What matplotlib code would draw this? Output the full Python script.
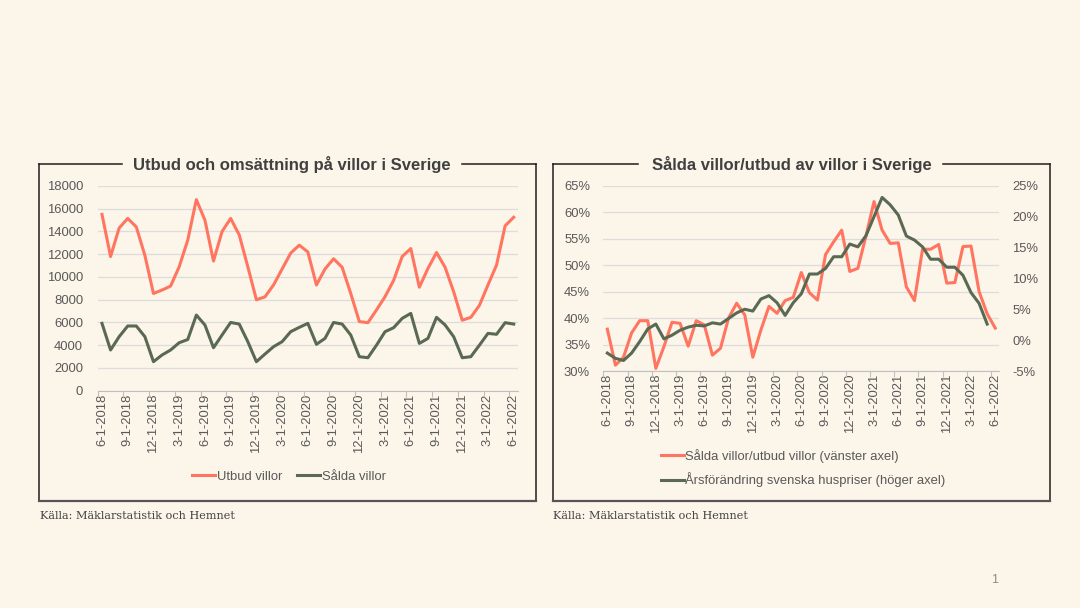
import numpy as np
import matplotlib.pyplot as plt
from matplotlib.lines import Line2D

# Data (monthly, 6-1-2018 .. 6-1-2022)
tick_labels = ['6-1-2018', '9-1-2018', '12-1-2018', '3-1-2019', '6-1-2019', '9-1-2019',
               '12-1-2019', '3-1-2020', '6-1-2020', '9-1-2020', '12-1-2020', '3-1-2021',
               '6-1-2021', '9-1-2021', '12-1-2021', '3-1-2022', '6-1-2022']

utbud_villor = [15500, 11800, 14300, 15150, 14400, 11900, 8550, 8850, 9200, 10900,
                13250, 16800, 15000, 11400, 14000, 15150, 13700, 10900, 8000, 8250,
                9300, 10700, 12100, 12800, 12200, 9300, 10700, 11600, 10850, 8550,
                6080, 5980, 7100, 8270, 9700, 11800, 12500, 9100, 10750, 12150,
                10850, 8700, 6200, 6450, 7500, 9300, 11050, 14500, 15250]

salda_villor = [5920, 3580, 4750, 5690, 5690, 4750, 2550, 3140, 3580, 4220,
                4500, 6650, 5780, 3780, 4900, 6000, 5860, 4310, 2550, 3220,
                3870, 4310, 5190, 5570, 5920, 4080, 4600, 6000, 5860, 4900,
                2990, 2900, 4000, 5190, 5540, 6360, 6800, 4160, 4600, 6450,
                5780, 4750, 2900, 2990, 4000, 5040, 4960, 5980, 5860]

# Sålda/utbud (%), vänster axel
salda_utbud = [37.9, 31.1, 32.6, 37.2, 39.5, 39.5, 30.5, 34.6, 39.2, 39.0,
               34.7, 39.5, 38.7, 33.0, 34.3, 40.0, 42.8, 40.6, 32.6, 37.75,
               42.2, 40.9, 43.3, 43.9, 48.6, 44.8, 43.4, 52.0, 54.4, 56.6,
               48.8, 49.4, 55.5, 62.0, 56.6, 54.1, 54.2, 45.9, 43.3, 53.0,
               53.0, 53.9, 46.6, 46.7, 53.5, 53.6, 45.0, 40.8, 38.1]

# Årsförändring huspriser (%), höger axel
huspriser = [-2.1, -2.95, -3.3, -2.1, -0.25, 1.8, 2.6, 0.2, 0.8, 1.6,
             2.1, 2.4, 2.3, 2.8, 2.6, 3.5, 4.4, 5.0, 4.7, 6.65,
             7.2, 6.05, 4.0, 6.05, 7.5, 10.7, 10.7, 11.6, 13.5, 13.5,
             15.55, 15.1, 16.9, 20.0, 23.1, 21.9, 20.25, 16.85, 16.2, 15.1,
             13.1, 13.1, 11.8, 11.8, 10.5, 7.7, 5.95, 2.6]

BG = '#fcf5ea'
RED = '#ff7560'
GREEN = '#5a6a52'
TXT = '#595959'
GRID = '#dcdcdc'

plt.rcParams['font.family'] = ['Liberation Sans', 'DejaVu Sans']

W, H = 1080, 608
fig = plt.figure(figsize=(W / 100, H / 100), dpi=100, facecolor=BG)


def fx(px):
    return px / W


def fy(py):
    return 1 - py / H


def style_axis(ax, ypad):
    ax.set_facecolor('none')
    n = len(utbud_villor)
    ax.set_xlim(-0.5, n - 0.5)
    ax.set_xticks(np.arange(0, n, 3))
    ax.set_xticklabels(tick_labels, rotation=90, fontsize=9.4, color=TXT)
    ax.set_xticks(np.arange(-0.5, n - 1, 3), minor=True)
    ax.tick_params(axis='x', which='major', length=0, pad=2)
    ax.tick_params(axis='x', which='minor', length=4, color='#bfbfbf', width=0.8)
    ax.tick_params(axis='y', length=0, labelsize=9.4, labelcolor=TXT, pad=ypad)
    for s in ['top', 'right', 'left']:
        ax.spines[s].set_visible(False)
    ax.spines['bottom'].set_color('#bfbfbf')
    ax.spines['bottom'].set_linewidth(0.8)
    ax.grid(axis='y', color=GRID, lw=0.9)
    ax.set_axisbelow(True)


def frame(x0, x1, y0, y1, gap0, gap1):
    kw = dict(color='#1e1e1e', lw=1.1, transform=fig.transFigure)
    fig.add_artist(Line2D([fx(x0), fx(gap0)], [fy(y0), fy(y0)], **kw))
    fig.add_artist(Line2D([fx(gap1), fx(x1)], [fy(y0), fy(y0)], **kw))
    fig.add_artist(Line2D([fx(x0), fx(x0)], [fy(y0), fy(y1)], **kw))
    fig.add_artist(Line2D([fx(x1), fx(x1)], [fy(y0), fy(y1)], **kw))
    fig.add_artist(Line2D([fx(x0), fx(x1)], [fy(y1), fy(y1)], color='#555555', lw=1.6,
                          transform=fig.transFigure))


x = np.arange(len(utbud_villor))

# ---- Left chart ----
ax1 = fig.add_axes([fx(97.7), fy(390.7), fx(518 - 97.7), (390.7 - 186) / H])
style_axis(ax1, 10.5)
ax1.plot(x, utbud_villor, color=RED, lw=2.2, label='Utbud villor')
ax1.plot(x, salda_villor, color=GREEN, lw=2.2, label='Sålda villor')
ax1.set_ylim(0, 18000)
ax1.set_yticks(np.arange(0, 18001, 2000))
ax1.legend(loc='center', bbox_to_anchor=(fx(289), fy(476.5)), bbox_transform=fig.transFigure,
           ncol=2, frameon=False, fontsize=9.4, handlelength=1.75, handletextpad=0.12,
           columnspacing=1.15, labelcolor=TXT)

frame(39, 536, 163.7, 501, 122, 462)
fig.text(fx(291.5), fy(165), 'Utbud och omsättning på villor i Sverige', ha='center', va='center',
         fontsize=11.95, fontweight='bold', color='#404040')
fig.text(fx(40), fy(516), 'Källa: Mäklarstatistik och Hemnet', ha='left', va='center',
         fontsize=8.1, color='#444444', family='DejaVu Serif')

# ---- Right chart ----
ax2 = fig.add_axes([fx(603.3), fy(371), fx(999.3 - 603.3), (371 - 185.7) / H])
style_axis(ax2, 9.5)
ax2.plot(x, salda_utbud, color=RED, lw=2.2)
ax2.set_ylim(30, 65)
ax2.set_yticks(np.arange(30, 66, 5))
ax2.set_yticklabels([f'{v}%' for v in range(30, 66, 5)])

ax3 = ax2.twinx()
ax3.plot(x[:len(huspriser)], huspriser, color=GREEN, lw=2.2)
ax3.set_ylim(-5, 25)
ax3.set_yticks(np.arange(-5, 26, 5))
ax3.set_yticklabels([f'{v}%' for v in range(-5, 26, 5)])
ax3.tick_params(axis='y', length=0, labelsize=9.4, labelcolor=TXT, pad=9.5)
for s in ax3.spines.values():
    s.set_visible(False)

handles = [Line2D([], [], color=RED, lw=2.2), Line2D([], [], color=GREEN, lw=2.2)]
fig.legend(handles, ['Sålda villor/utbud villor (vänster axel)',
                     'Årsförändring svenska huspriser (höger axel)'],
           loc='upper left', bbox_to_anchor=(fx(649), fy(437)), frameon=False, fontsize=9.4,
           handlelength=1.75, handletextpad=0.12, labelspacing=0.75, labelcolor=TXT)

frame(553, 1050, 163.7, 501, 638, 943)
fig.text(fx(792), fy(165), 'Sålda villor/utbud av villor i Sverige', ha='center', va='center',
         fontsize=11.95, fontweight='bold', color='#404040')
fig.text(fx(553), fy(516), 'Källa: Mäklarstatistik och Hemnet', ha='left', va='center',
         fontsize=8.1, color='#444444', family='DejaVu Serif')

fig.text(fx(995), fy(580), '1', ha='center', va='center', fontsize=9, color='#8c8c8c')

fig.savefig('out.png', dpi=100, facecolor=BG)
